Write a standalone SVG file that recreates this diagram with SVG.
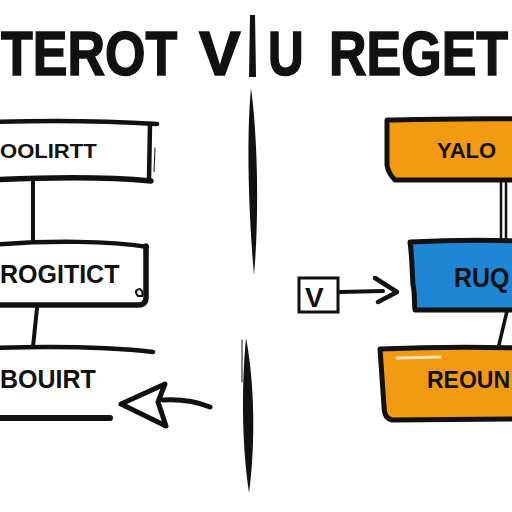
<svg xmlns="http://www.w3.org/2000/svg" width="512" height="512" viewBox="0 0 512 512">
<style>
.t{font-family:"Liberation Sans","DejaVu Sans",sans-serif;font-weight:bold;fill:#111}
.tt{stroke:#111;stroke-width:1.3;font-size:52px}
.ln{fill:none;stroke:#111;stroke-linecap:round;stroke-linejoin:round}
.org{fill:#F29A10;stroke:#111;stroke-width:5;stroke-linejoin:round}
.blu{fill:#1F86D6;stroke:#111;stroke-width:5;stroke-linejoin:round}
</style>
<rect width="512" height="512" fill="#fff"/>
<g id="title">
<text class="t tt" transform="translate(1,75) scale(1,1.2)">TEROT</text>
<text class="t tt" transform="translate(199,75) scale(1.2,1.2)">V</text>
<text class="t tt" transform="translate(268,75) scale(0.95,1.2)">U</text>
<text class="t tt" transform="translate(329,75) scale(1,1.2)">REGET</text>
<path d="M250 15 L255 15 L256 77 L249 77 Z" fill="#111"/>
</g>
<g id="divider">
<path d="M251 88 C258 140 259 220 254 275 C249 220 246 140 251 88 Z" fill="#111"/>
<path d="M246 338 C254 380 256 440 249 493 C241 440 242 380 246 338 Z" fill="#111"/>
<path d="M242 340 L242 382" class="ln" stroke-width="1"/>
</g>
<g id="connectors">
<path d="M33 182 L33 240" class="ln" stroke-width="4"/>
<path d="M37 308 L33 347" class="ln" stroke-width="4"/>
<path d="M501 181 L501 241 M506 181 L506 241" class="ln" stroke-width="2.5"/>
<path d="M507 311 L498 349" class="ln" stroke-width="3.5"/>
<path d="M340 292 L383 291" class="ln" stroke-width="4"/>
<path d="M375 278 L397 292 L378 302" class="ln" stroke-width="4.5"/>
<path d="M210 407 C195 401 180 399 163 400" class="ln" stroke-width="5"/>
<path d="M121 404 L165 384 L158 402 L166 426 Z" class="ln" stroke-width="5"/>
</g>
<g id="box1">
<path d="M-10 122 C50 120 110 121 157 124" class="ln" stroke-width="4.5"/>
<path d="M150 124 L149 179" class="ln" stroke-width="4.5"/>
<path d="M155 148 L154 172" class="ln" stroke-width="1"/>
<path d="M-10 180 C50 177 110 177 151 181" class="ln" stroke-width="5.5"/>
<text class="t" transform="translate(0,158) scale(1.05,1)" font-size="21">OOLIRTT</text>
</g>
<g id="box2">
<path d="M-10 245 C50 240 110 241 147 247" class="ln" stroke-width="4.5"/>
<path d="M146 246 L146 298 Q146 305 138 305 L-10 305" class="ln" stroke-width="5.5"/>
<path d="M138 296 Q133 290 140 289 Q144 292 142 296 Z" class="ln" stroke-width="2"/>
<text class="t" x="0" y="283" font-size="25">ROGITICT</text>
</g>
<g id="box3">
<path d="M-10 348 C60 346 110 347 153 352" class="ln" stroke-width="4.5"/>
<path d="M-10 418 L110 418" class="ln" stroke-width="6"/>
<text class="t" x="0" y="388" font-size="25">BOUIRT</text>
</g>
<g id="box4">
<path d="M387 120 C440 119 480 118 520 119 L520 180 L395 180 C392 177 388 172 387 165 Z" class="org"/>
<text class="t" x="437" y="158" font-size="22">YALO</text>
</g>
<g id="box5">
<path d="M410 242 C450 240 490 240 520 241 L520 310 L415 310 C414 302 415 292 413 285 C412 270 412 255 410 242 Z" class="blu"/>
<text class="t" transform="translate(454,287) scale(1,1.08)" font-size="25">RUQ</text>
</g>
<g id="box6">
<path d="M380 349 C430 347 480 347 520 348 L520 419 L392 420 C386 419 384 414 384 406 Z" class="org"/>
<path d="M397 358 L440 357" stroke="#fff" stroke-width="3" stroke-linecap="round" opacity="0.7"/>
<text class="t" x="427" y="388" font-size="23">REOUN</text>
</g>
<g id="vbox">
<rect x="299" y="278" width="39" height="34" fill="#fff" stroke="#111" stroke-width="3"/>
<text class="t" x="305" y="307" font-size="28">V</text>
</g>
</svg>
